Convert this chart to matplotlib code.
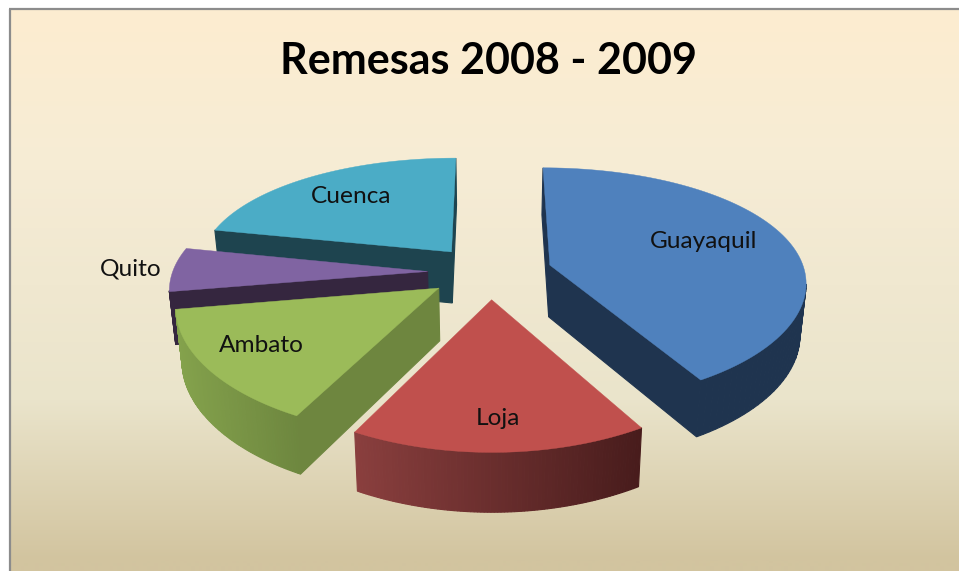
import numpy as np
import matplotlib
matplotlib.use("Agg")
import matplotlib.pyplot as plt
from matplotlib.colors import to_rgb

TITLE = "Remesas 2008 - 2009"
categories = ["Guayaquil", "Loja", "Ambato", "Quito", "Cuenca"]
values = [41.6, 16.0, 14.7, 6.0, 21.7]

top_colors = ["#4F81BD", "#C0504D", "#9BBB59", "#8064A2", "#4BACC6"]
arc_light = ["#1F344F", "#8A3F3E", "#84A24C", "#35263F", "#1E444F"]
arc_dark = ["#1F344F", "#481C1C", "#6E873F", "#35263F", "#1E444F"]
side_colors = ["#1F344F", "#481C1C", "#6E863F", "#35263F", "#1E444F"]
label_radius = [0.65, 0.81, 0.78, 1.17, 0.70]
label_dy = [-5, 0, -3, 0, -1]

W, H = 959, 571
CX, CY, RX, RY = 490.0, 272.0, 255.0, 116.0
PX, PY = 0.13, 0.17
DEPTH, EXPLODE_X, EXPLODE_Y, SHRINK = 52.0, 0.245, 0.23, 0.02

def project(x, y, z=0.0):
    sx = 1.0 / (1.0 - PX * y)
    sy = 1.0 / (1.0 - PY * y)
    shrink = 1.0 - SHRINK * z / DEPTH
    return CX + RX * x * sx * shrink, CY + RY * y * sy + z * sy ** 0.6

fig = plt.figure(figsize=(W / 100, H / 100), dpi=100, facecolor="white")
ax = fig.add_axes([0, 0, 1, 1])

# background gradient
stops_y = [9, 170, 400, 560]
stops_c = np.array([[253, 237, 208], [246, 236, 213], [234, 228, 203], [210, 196, 159]]) / 255
ys = np.arange(9, H + 1)
grad = np.stack([np.interp(ys, stops_y, stops_c[:, i]) for i in range(3)], axis=1)[:, None, :]
ax.imshow(grad, extent=(10, W, H, 9), aspect="auto", zorder=0, interpolation="bilinear")
ax.set_xlim(0, W)
ax.set_ylim(H, 0)
ax.axis("off")
ax.plot([10, 10], [H, 8.5], color="#8C8C8C", lw=1.6, zorder=1, solid_capstyle="butt")
ax.plot([9.2, W], [8.5, 8.5], color="#8C8C8C", lw=1.6, zorder=1, solid_capstyle="butt")

total = sum(values)
spans = np.array(values) / total * 2 * np.pi
starts = np.concatenate([[0], np.cumsum(spans)[:-1]])

def mix(a, b, t):
    a, b = np.array(to_rgb(a)), np.array(to_rgb(b))
    return tuple(a + (b - a) * t)

# Back to front
order = sorted(range(len(values)), key=lambda i: -np.cos(starts[i] + spans[i] / 2))
zo = 2
for i in order:
    mid = starts[i] + spans[i] / 2
    ox, oy = EXPLODE_X * np.sin(mid), -EXPLODE_Y * np.cos(mid)
    th = np.linspace(starts[i], starts[i] + spans[i], 90)
    plane = [(ox, oy)] + [(ox + np.sin(t), oy - np.cos(t)) for t in th]
    top = np.array([project(px, py) for px, py in plane])
    bot = np.array([project(px, py, DEPTH) for px, py in plane])
    n = len(plane)
    edges = [(0, 1)] + [(k, k + 1) for k in range(1, n - 1)] + [(n - 1, 0)]
    xs_vis = top[1:, 0]
    for a, b in edges:
        if top[b, 0] - top[a, 0] < 0:
            if a == 0 or b == 0:
                col = side_colors[i]
            else:
                t = (top[a, 0] - xs_vis.min()) / max(xs_vis.max() - xs_vis.min(), 1)
                col = mix(arc_light[i], arc_dark[i], t)
            quad = np.array([top[a], top[b], bot[b], bot[a]])
            ax.fill(quad[:, 0], quad[:, 1], facecolor=col, edgecolor=col, lw=0.8, zorder=zo)
    zo += 1
    ax.fill(top[:, 0], top[:, 1], color=top_colors[i], lw=0.3, zorder=zo)
    zo += 1

for i, name in enumerate(categories):
    mid = starts[i] + spans[i] / 2
    ox, oy = EXPLODE_X * np.sin(mid), -EXPLODE_Y * np.cos(mid)
    lx, ly = project(ox + label_radius[i] * np.sin(mid), oy - label_radius[i] * np.cos(mid))
    ax.text(lx, ly + label_dy[i], name, ha="center", va="center", fontsize=17.6, family="Lato",
            color="#111111", zorder=50)

ax.text(489, 61, TITLE, ha="center", va="center", fontsize=31, family="Lato",
        fontweight="bold", color="black", zorder=50)

fig.savefig("out.png", dpi=100, facecolor="white")
